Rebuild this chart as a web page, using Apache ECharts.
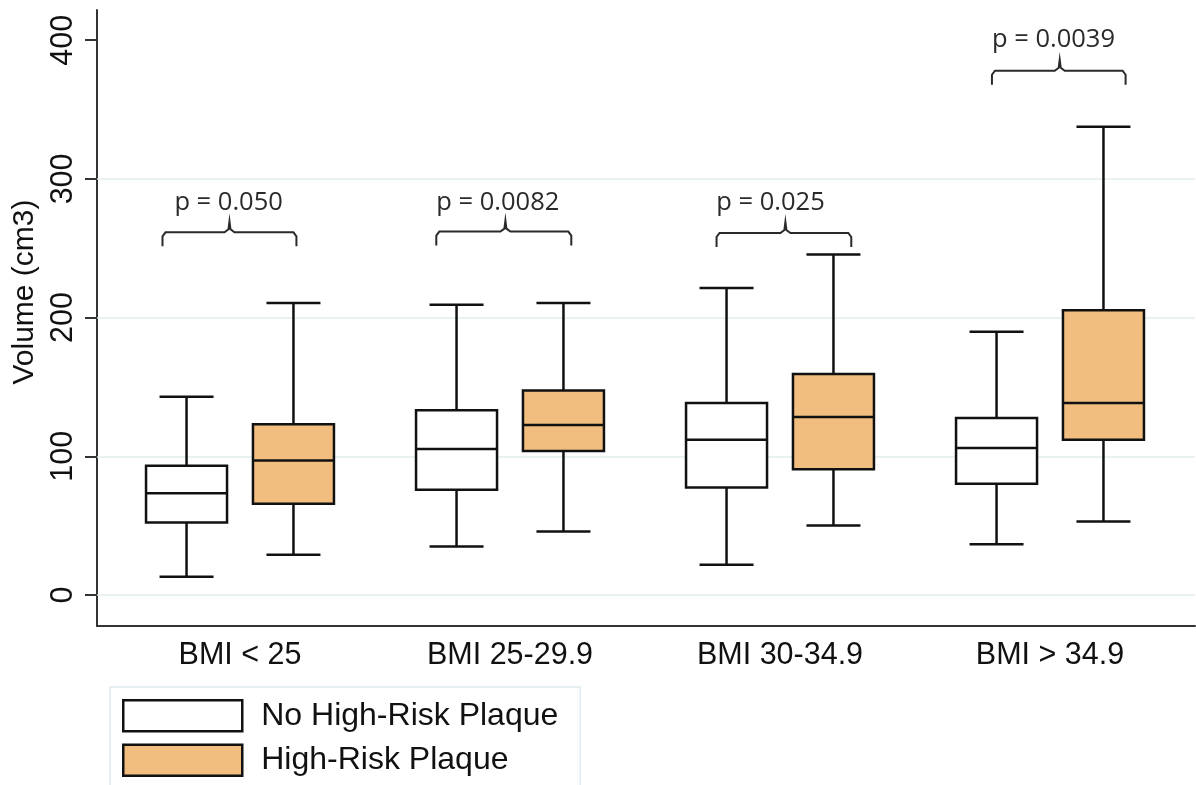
<!DOCTYPE html>
<html><head><meta charset="utf-8">
<script src="https://cdn.jsdelivr.net/npm/echarts@6/dist/echarts.min.js"></script>
<style>html,body{margin:0;padding:0;background:#fff}#chart{width:1196px;height:785px}</style>
</head><body><div id="chart"></div>
<script>
// ---------------- data ----------------
const categories = ['BMI < 25', 'BMI 25-29.9', 'BMI 30-34.9', 'BMI > 34.9'];
const seriesNames = ['No High-Risk Plaque', 'High-Risk Plaque'];
// [lower whisker, Q1, median, Q3, upper whisker]
const noHighRisk = [
  [13.2, 52.2, 73.4, 93.1, 143.0],
  [34.9, 75.8, 105.2, 133.1, 209.2],
  [21.7, 77.5, 111.9, 138.4, 221.4],
  [36.6, 80.1, 105.9, 127.6, 189.7]
];
const highRisk = [
  [28.9, 65.7, 97.0, 123.0, 210.6],
  [45.7, 103.8, 122.5, 147.5, 210.6],
  [50.1, 90.7, 128.3, 159.3, 245.5],
  [52.9, 111.9, 138.4, 205.3, 337.7]
];
const yTicks = [0, 100, 200, 300, 400];
const gridValues = [0, 100, 200, 300];
const yTitle = 'Volume (cm3)';
const pLabels = ['p = 0.050', 'p = 0.0082', 'p = 0.025', 'p = 0.0039'];
const bracketLevel = [261.5, 262, 261, 378];   // value of bracket bar
const pLabelLevel = [283, 283, 283, 400.5];    // value of p label centre
// bracket placement within each category band (fraction of band width)
const bracketLeft = [-0.287, -0.273, -0.235, -0.215];
const bracketRight = [0.209, 0.227, 0.264, 0.280];
const bracketPeak = [-0.039, -0.017, 0.020, 0.036];
const labelLeft = [-0.243, -0.273, -0.236, -0.215];

// ---------------- styles ----------------
const FONT = "'Liberation Sans', Arial, sans-serif";
const Y_MIN = -22.4, Y_MAX = 421.8;
const BOX_W = 0.3, CAP_W = 0.2, OFFSET = 0.198;
const INK = '#111';
const ORANGE = '#F1BE7F';

function makeBoxRender(off, fill) {
  return function (params, api) {
    const cat = api.value(0);
    const band = api.size([1, 0])[0];
    const cx = api.coord([cat, 0])[0] + off * band;
    const y = [1, 2, 3, 4, 5].map(d => api.coord([cat, api.value(d)])[1]);
    const w = BOX_W * band, cw = CAP_W * band;
    const ls = { stroke: INK, lineWidth: 2.5 };
    return {
      type: 'group', children: [
        { type: 'line', shape: { x1: cx, y1: y[4], x2: cx, y2: y[3] }, style: ls },
        { type: 'line', shape: { x1: cx, y1: y[1], x2: cx, y2: y[0] }, style: ls },
        { type: 'line', shape: { x1: cx - cw / 2, y1: y[4], x2: cx + cw / 2, y2: y[4] }, style: ls },
        { type: 'line', shape: { x1: cx - cw / 2, y1: y[0], x2: cx + cw / 2, y2: y[0] }, style: ls },
        { type: 'rect', shape: { x: cx - w / 2, y: y[3], width: w, height: y[1] - y[3] }, style: { fill: fill, stroke: INK, lineWidth: 2.5 } },
        { type: 'line', shape: { x1: cx - w / 2, y1: y[2], x2: cx + w / 2, y2: y[2] }, style: ls }
      ]
    };
  };
}

function bracketRender(params, api) {
  const i = api.value(0);
  const band = api.size([1, 0])[0];
  const cx = api.coord([i, 0])[0];
  const yH = api.coord([i, api.value(1)])[1];
  const yT = api.coord([i, api.value(2)])[1];
  const L = cx + bracketLeft[i] * band, R = cx + bracketRight[i] * band, P = cx + bracketPeak[i] * band;
  const pts = [[L, yH + 14], [L, yH + 4], [L + 3, yH], [P - 5, yH], [P - 1, yH - 3], [P, yH - 11],
               [P + 1, yH - 3], [P + 5, yH], [R - 3, yH], [R, yH + 4], [R, yH + 14]];
  return {
    type: 'group', children: [
      { type: 'polyline', shape: { points: pts }, style: { stroke: '#2a2a2a', lineWidth: 2, fill: null } },
      { type: 'text', x: cx + labelLeft[i] * band, y: yT,
        style: { text: pLabels[i], fontSize: 25.5, fontFamily: "'Open Sans', sans-serif", fill: '#2a2a2a', align: 'left', verticalAlign: 'middle' } }
    ]
  };
}

const boxDataA = noHighRisk.map((r, i) => [i].concat(r));
const boxDataB = highRisk.map((r, i) => [i].concat(r));
const bracketData = categories.map((c, i) => [i, bracketLevel[i], pLabelLevel[i]]);

const chart = echarts.init(document.getElementById('chart'), null, { renderer: 'canvas' });
chart.setOption({
  animation: false,
  backgroundColor: '#fff',
  grid: [
    { left: 105, right: 11, top: 10, bottom: 159 },
    { left: 97, right: 1, top: 10, bottom: 159 }
  ],
  xAxis: [
    { type: 'category', gridIndex: 0, data: categories, boundaryGap: true,
      axisLine: { show: false }, axisTick: { show: false }, splitLine: { show: false },
      axisLabel: { interval: 0, fontSize: 30.5, color: INK, fontFamily: FONT, margin: 14 } },
    { type: 'value', gridIndex: 1, min: 0, max: 1, position: 'bottom',
      axisLine: { show: true, onZero: false, lineStyle: { color: '#333', width: 2 } },
      axisTick: { show: false }, axisLabel: { show: false }, splitLine: { show: false } }
  ],
  yAxis: [
    { type: 'value', gridIndex: 0, min: Y_MIN, max: Y_MAX, show: false, splitLine: { show: false } },
    { type: 'value', gridIndex: 1, min: Y_MIN, max: Y_MAX,
      name: yTitle, nameLocation: 'middle', nameGap: 52, nameRotate: 90,
      nameTextStyle: { fontSize: 30, color: INK, fontFamily: FONT, padding: [0, 0, 0, 52] },
      axisLine: { show: true, onZero: false, lineStyle: { color: '#333', width: 2 } },
      axisTick: { show: true, customValues: yTicks, length: 12, lineStyle: { color: '#333', width: 2 } },
      axisLabel: { customValues: yTicks, rotate: 90, fontSize: 30.5, color: INK, fontFamily: FONT, margin: 18 },
      splitLine: { show: false } }
  ],
  legend: {
    left: 110, top: 687, orient: 'vertical', itemWidth: 119, itemHeight: 31, itemGap: 11,
    height: 80,
    padding: [12, 22, 20, 12], borderColor: '#E1EAEE', borderWidth: 1.5, selectedMode: false,
    textStyle: { fontSize: 32, color: INK, fontFamily: FONT, padding: [0, 0, 0, 14] },
    data: [
      { name: seriesNames[0], icon: 'rect', itemStyle: { color: '#fff', borderColor: INK, borderWidth: 2.5 } },
      { name: seriesNames[1], icon: 'rect', itemStyle: { color: ORANGE, borderColor: INK, borderWidth: 2.5 } }
    ]
  },
  series: [
    { type: 'line', xAxisIndex: 1, yAxisIndex: 1, data: [], z: 1, silent: true,
      markLine: { symbol: 'none', silent: true, z: 1, label: { show: false },
        lineStyle: { color: '#E2ECEF', width: 1.5, type: 'solid' },
        data: gridValues.map(v => ({ yAxis: v })) } },
    { type: 'custom', name: seriesNames[0], xAxisIndex: 0, yAxisIndex: 0, z: 3,
      itemStyle: { color: '#fff' }, renderItem: makeBoxRender(-OFFSET, '#fff'),
      encode: { x: 0, y: [1, 2, 3, 4, 5] }, data: boxDataA },
    { type: 'custom', name: seriesNames[1], xAxisIndex: 0, yAxisIndex: 0, z: 3,
      itemStyle: { color: ORANGE }, renderItem: makeBoxRender(OFFSET, ORANGE),
      encode: { x: 0, y: [1, 2, 3, 4, 5] }, data: boxDataB },
    { type: 'custom', name: 'brackets', xAxisIndex: 0, yAxisIndex: 0, z: 4,
      renderItem: bracketRender, encode: { x: 0, y: [1, 2] }, data: bracketData }
  ]
});
</script></body></html>
